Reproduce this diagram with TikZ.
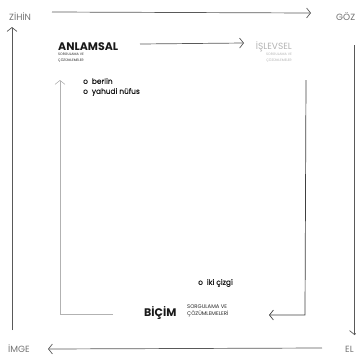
\documentclass[tikz,border=0pt]{standalone}
\usepackage{fontspec}
\setmainfont{Poppins}
\newfontfamily\medfont[FakeBold=0.6]{Poppins}
\usetikzlibrary{arrows.meta}
\begin{document}
\begin{tikzpicture}[x=1pt,y=-1pt,
  pencil/.style={line width=0.7pt, draw=black!65},
  softpencil/.style={line width=0.6pt, draw=black!30},
  fainttip/.style={-{Straight Barb[length=4pt,width=10pt]}},
  corner/.style={font=\fontsize{9}{9}\selectfont, text=black!55, inner sep=0pt},
  title/.style={font=\bfseries\fontsize{11}{11}\selectfont, inner sep=0pt, text=black!90},
  sub/.style={font=\fontsize{3.4}{6.2}\selectfont, inner sep=0pt, align=left, text=black!85},
  item/.style={font=\medfont\fontsize{7.4}{10}\selectfont, inner sep=0pt, align=left, text=black!90}]
\useasboundingbox (0,0) rectangle (356,357);
% corner labels
\node[corner, anchor=west] (zihin) at (9,17) {ZİHİN};
\node[corner, anchor=west] (goz) at (336,17) {GÖZ};
\node[corner, anchor=west] (imge) at (8,349) {İMGE};
\node[corner, anchor=west] (el) at (345,349) {EL};
% outer frame
\coordinate (olb) at (12,330);
\coordinate (olt) at (12,27);
\coordinate (ots) at (52,12);
\coordinate (ote) at (311,13);
\coordinate (ors) at (354.5,45);
\coordinate (ore) at (354.5,335);
\coordinate (obs) at (322,348);
\coordinate (obe) at (48,349);
\draw[pencil, fainttip] (olb) -- (olt);
\draw[pencil, fainttip] (ots) -- (ote);
\draw[pencil, fainttip] (ors) -- (ore);
\draw[pencil, fainttip] (obs) -- (obe);
% inner frame
\coordinate (ilbr) at (113,314);
\coordinate (ilc) at (60,314);
\coordinate (ilt) at (60,80);
\coordinate (its) at (140,44);
\coordinate (ite) at (244,43);
\coordinate (irt) at (306,80);
\coordinate (irc) at (305,315);
\coordinate (ire) at (269,315);
\draw[softpencil, fainttip] (ilbr) -- (ilc) -- (ilt);
\draw[pencil, fainttip] (its) -- (ite);
\draw[pencil, draw=black!75, fainttip] (irt) -- (irc) -- (ire);
% titles
\node[title, anchor=west] (anlamsal) at (58,46.5) {ANLAMSAL};
\node[sub, anchor=north west] (anlamsalsub) at (58,53) {SORGULAMA VE\\ÇÖZÜMLEMELER};
\node[title, anchor=east, font=\fontsize{9}{9}\selectfont, text=black!30] (islevsel) at (292,46.5) {İŞLEVSEL};
\node[sub, anchor=north east, align=right, text=black!30] (islevselsub) at (292,53) {SORGULAMA VE\\ÇÖZÜMLEMELER};
\node[title, anchor=west] (bicim) at (144,313) {BİÇİM};
\node[sub, anchor=west, font=\fontsize{5.3}{7}\selectfont] (bicimsub) at (187,311) {SORGULAMA VE\\ÇÖZÜMLEMELERİ};
% items
\node[item, anchor=north west] (list1) at (83,78) {o\ \ berlin\\o\ \ yahudi nüfus};
\node[item, anchor=west] (list2) at (198,283) {o\ \ iki çizgi};
\end{tikzpicture}
\end{document}
